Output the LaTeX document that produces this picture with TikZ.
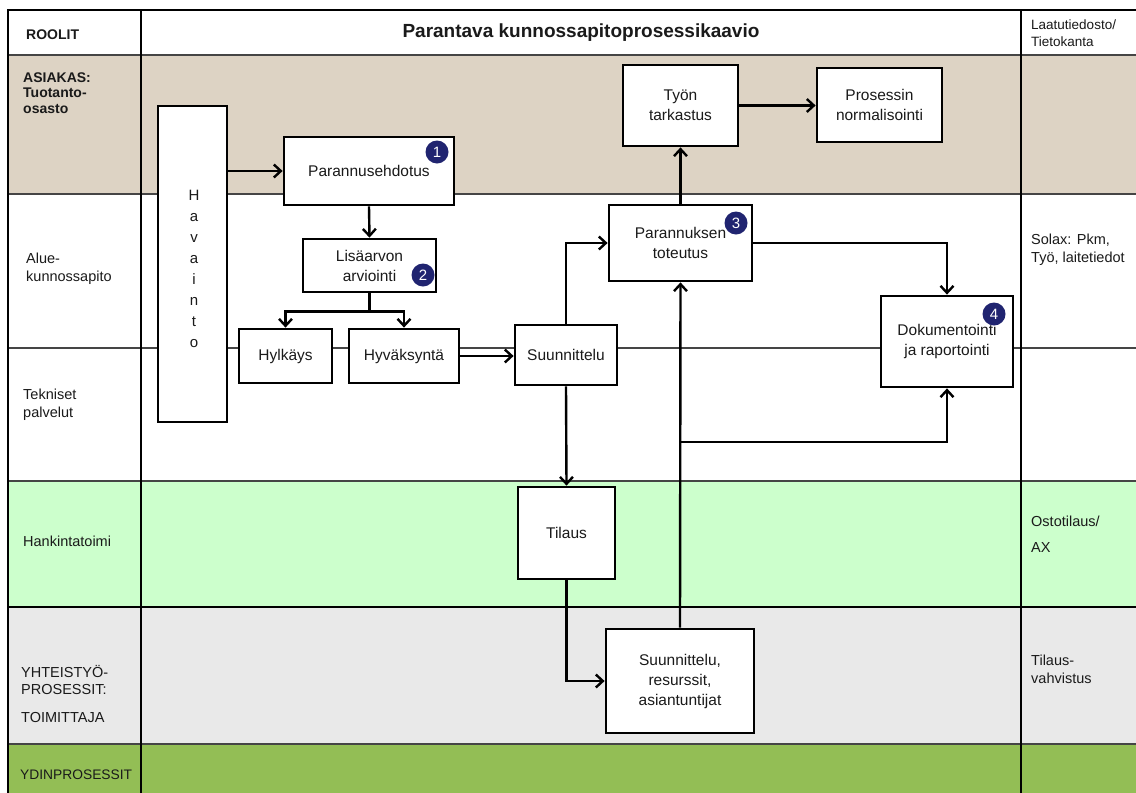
\documentclass[tikz,border=0pt]{standalone}
\usepackage{fontspec}
\setmainfont{Liberation Sans}
\usetikzlibrary{arrows.meta}
\definecolor{lanetan}{HTML}{DDD3C4}
\definecolor{lanegreen}{HTML}{CCFFCC}
\definecolor{lanegrey}{HTML}{E9E9E9}
\definecolor{coregreen}{HTML}{93BE55}
\definecolor{rulegrey}{HTML}{454545}
\definecolor{navy}{HTML}{202470}
\definecolor{ink}{HTML}{1A1A1A}
\begin{document}
\begin{tikzpicture}[x=1pt,y=-1pt,
  stepbox/.style={draw=black, line width=2.8pt, fill=white, inner sep=0pt,
    align=center, text=ink, font=\fontsize{15.5}{20}\selectfont},
  conn/.style={line width=2.4pt, -{Straight Barb[length=7pt,width=13pt]}},
  link/.style={line width=2.4pt},
  lab/.style={anchor=base west, inner sep=0pt, align=left, text=ink,
    font=\fontsize{14.5}{17.5}\selectfont},
  blab/.style={lab, font=\fontsize{14}{15.5}\selectfont\bfseries},
  badge/.style={circle, fill=navy, text=white, inner sep=0pt,
    minimum size=23pt, font=\fontsize{15}{15}\selectfont},
  lane/.style={line width=1.3pt, draw=rulegrey},
  frameline/.style={line width=2.4pt, draw=black}]
\useasboundingbox (0,0) rectangle (1136,793);

% swimlane backgrounds
\fill[white] (8,10) rectangle (1136,55);
\fill[lanetan] (8,55) rectangle (1136,194);
\fill[white] (8,194) rectangle (1136,481);
\fill[lanegreen] (8,481) rectangle (1136,607);
\fill[lanegrey] (8,607) rectangle (1136,744);
\fill[coregreen] (8,744) rectangle (1136,800);

% lane separators
\draw[lane] (8,55) -- (1136,55);
\draw[lane] (8,194) -- (1136,194);
\draw[lane] (8,348) -- (1136,348);
\draw[lane] (8,481) -- (1136,481);
\draw[lane, line width=2pt, draw=black] (8,607) -- (1136,607);
\draw[lane] (8,744) -- (1136,744);

% outer frame and column dividers
\draw[frameline] (1140,10) -- (8,10) -- (8,800);
\draw[frameline] (141,10) -- (141,800);
\draw[frameline] (1021,10) -- (1021,800);

% header texts (multi-line nodes are placed by the baseline of their last line)
\node[blab] (roolit) at (26,39) {ROOLIT};
\node[anchor=base, inner sep=0pt, text=ink, font=\fontsize{19}{22}\selectfont\bfseries]
  (title) at (581,37) {Parantava kunnossapitoprosessikaavio};
\node[lab, font=\fontsize{13.5}{16.5}\selectfont] (laatu) at (1031,46) {Laatutiedosto/\\Tietokanta};

% role labels
\node[blab] (asiakas) at (23,113) {ASIAKAS:\\Tuotanto-\\osasto};
\node[lab] (alue) at (26,281) {Alue-\\kunnossapito};
\node[lab] (tekn) at (23,417) {Tekniset\\palvelut};
\node[lab] (hank) at (23,546) {Hankintatoimi};
\node[lab] (yht) at (21,722) {YHTEISTYÖ-\\PROSESSIT:\\[10pt]TOIMITTAJA};
\node[lab, font=\fontsize{13.8}{16}\selectfont] (ydin) at (20,779) {YDINPROSESSIT};

% data store labels
\node[lab] (solax) at (1031,262) {Solax: Pkm,\\Työ, laitetiedot};
\node[lab] (osto) at (1031,552) {Ostotilaus/\\[8pt]AX};
\node[lab] (tvah) at (1031,683) {Tilaus-\\vahvistus};

% process steps
\node[stepbox, minimum width=69pt, minimum height=316pt] (hav) at (192.5,264) {};
\node[anchor=base, inner sep=0pt, align=center, text=ink, font=\fontsize{15}{21}\selectfont]
  (havtext) at (194,347) {H\\a\\v\\a\\i\\n\\t\\o};
\node[stepbox, minimum width=170pt, minimum height=68pt] (pe) at (369,171) {Parannusehdotus};
\node[stepbox, minimum width=133pt, minimum height=53pt] (la) at (369.5,265.5) {Lisäarvon\\arviointi};
\node[stepbox, minimum width=93pt, minimum height=54pt] (hy) at (285.5,356) {Hylkäys};
\node[stepbox, minimum width=110pt, minimum height=54pt] (hv) at (404,356) {Hyväksyntä};
\node[stepbox, minimum width=102pt, minimum height=60pt] (su) at (566,355) {Suunnittelu};
\node[stepbox, minimum width=143pt, minimum height=76pt] (pt) at (680.5,243) {Parannuksen\\toteutus};
\node[stepbox, minimum width=115pt, minimum height=81pt] (tt) at (680.5,105.5) {Työn\\tarkastus};
\node[stepbox, minimum width=125pt, minimum height=74pt] (pn) at (879.5,105) {Prosessin\\normalisointi};
\node[stepbox, minimum width=132pt, minimum height=91pt] (dr) at (947,341.5) {Dokumentointi\\ja raportointi};
\node[stepbox, minimum width=97pt, minimum height=92pt] (ti) at (566.5,533) {Tilaus};
\node[stepbox, minimum width=148pt, minimum height=104pt] (sr) at (680,681)
  {Suunnittelu,\\resurssit,\\asiantuntijat};

% numbered markers
\node[badge] (b1) at (437,152) {1};
\node[badge] (b2) at (423,275) {2};
\node[badge] (b3) at (736,223) {3};
\node[badge] (b4) at (994,314) {4};

% flow
\draw[conn] (hav.east |- pe.west) -- (pe.west);
\draw[conn] (pe.south) -- (la.north);
\coordinate (fork) at ([yshift=-18pt]la.south);
\draw[link] (la.south) -- (fork);
\draw[conn] (fork) -| (hy.north);
\draw[conn] (fork) -| (hv.north);
\draw[conn] (hv.east) -- (su.west |- hv.east);
\draw[conn] (su.north) |- (pt.west);
\draw[conn] (pt.north) -- (tt.south);
\draw[conn] (tt.east) -- (pn.west |- tt.east);
\draw[conn] (pt.east) -| (dr.north);
\draw[conn] (su.south) -- (ti.north);
\draw[conn] (ti.south) |- (sr.west);
\draw[conn] (sr.north) -- (pt.south);
\coordinate (jn) at (sr.north |- 0,442);
\draw[conn] (jn) -| (dr.south);
\end{tikzpicture}
\end{document}
